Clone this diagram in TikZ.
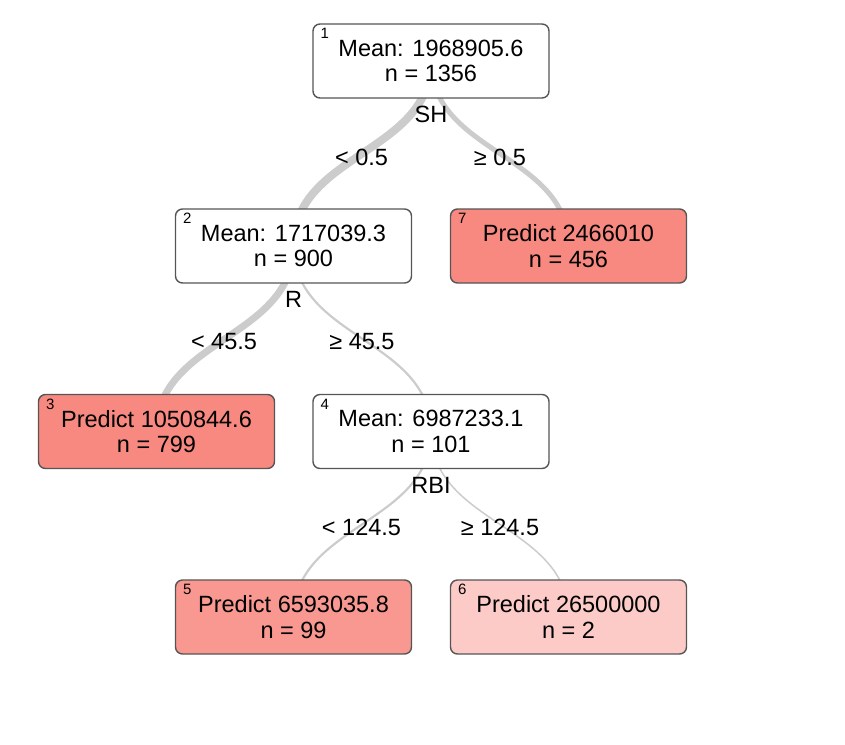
\documentclass[tikz,border=0pt]{standalone}
\usepackage{fontspec}
\setmainfont{Liberation Sans}
\usetikzlibrary{calc}
\definecolor{edgegray}{HTML}{CCCCCC}
\definecolor{boxline}{HTML}{555555}
\definecolor{leafA}{RGB}{248,137,128}
\definecolor{leafB}{RGB}{248,152,145}
\definecolor{leafC}{RGB}{252,203,200}
\tikzset{
  treebox/.style={draw=boxline, line width=1.4pt, rounded corners=7pt, minimum width=236pt, minimum height=74pt, inner sep=0pt, fill=white},
  boxtext/.style={font=\fontsize{23.5}{25.5}\selectfont, align=center, inner sep=0pt},
  idx/.style={font=\fontsize{15}{15}\selectfont, inner sep=0pt},
  edgelab/.style={font=\fontsize{23.5}{26}\selectfont, inner sep=0pt},
  treeedge/.style={draw=edgegray, line cap=butt},
}
\newcommand{\treenode}[6]{% name, x, y, fill, index, text
  \node[treebox, fill=#4] (#1) at (#2,#3) {};
  \node[boxtext] (#1t) at (#2,#3) {#6};
  \node[idx, anchor=north west] (#1i) at ([xshift=8pt,yshift=-5pt]#1.north west) {#5};
}
\newcommand{\treeedge}[3]{% from, to, width
  \draw[treeedge, line width=#3] let \p1=(#1), \p2=(#2) in
    (#1) .. controls ({\x1},{(\y1+\y2)/2}) and ({\x2},{(\y1+\y2)/2}) .. (#2);
}
\begin{document}
\begin{tikzpicture}[x=1pt,y=-1pt]
\useasboundingbox (0,0) rectangle (845,744);
\coordinate (c1) at (431,61);
\coordinate (c2) at (293.5,246);
\coordinate (c7) at (568.5,246);
\coordinate (c3) at (156.5,431.5);
\coordinate (c4) at (431,431.5);
\coordinate (c5) at (293.5,617);
\coordinate (c6) at (568.5,617);
\treeedge{c1}{c2}{8pt}
\treeedge{c1}{c7}{5pt}
\treeedge{c2}{c3}{7pt}
\treeedge{c2}{c4}{2.2pt}
\treeedge{c4}{c5}{2.2pt}
\treeedge{c4}{c6}{1.5pt}
\treenode{n1}{431}{61}{white}{1}{Mean: 1968905.6\\n = 1356}
\treenode{n2}{293.5}{246}{white}{2}{Mean: 1717039.3\\n = 900}
\treenode{n7}{568.5}{246}{leafA}{7}{Predict 2466010\\n = 456}
\treenode{n3}{156.5}{431.5}{leafA}{3}{Predict 1050844.6\\n = 799}
\treenode{n4}{431}{431.5}{white}{4}{Mean: 6987233.1\\n = 101}
\treenode{n5}{293.5}{617}{leafB}{5}{Predict 6593035.8\\n = 99}
\treenode{n6}{568.5}{617}{leafC}{6}{Predict 26500000\\n = 2}
\node[edgelab] (s1) at (431,114) {SH};
\node[edgelab] (s2) at (293.5,299) {R};
\node[edgelab] (s4) at (431,485) {RBI};
\node[edgelab] (l12) at (361.5,157) {< 0.5};
\node[edgelab] (l17) at (500,157) {≥ 0.5};
\node[edgelab] (l23) at (224,342) {< 45.5};
\node[edgelab] (l24) at (362,342) {≥ 45.5};
\node[edgelab] (l45) at (361.5,527) {< 124.5};
\node[edgelab] (l46) at (500,527) {≥ 124.5};
\end{tikzpicture}
\end{document}
